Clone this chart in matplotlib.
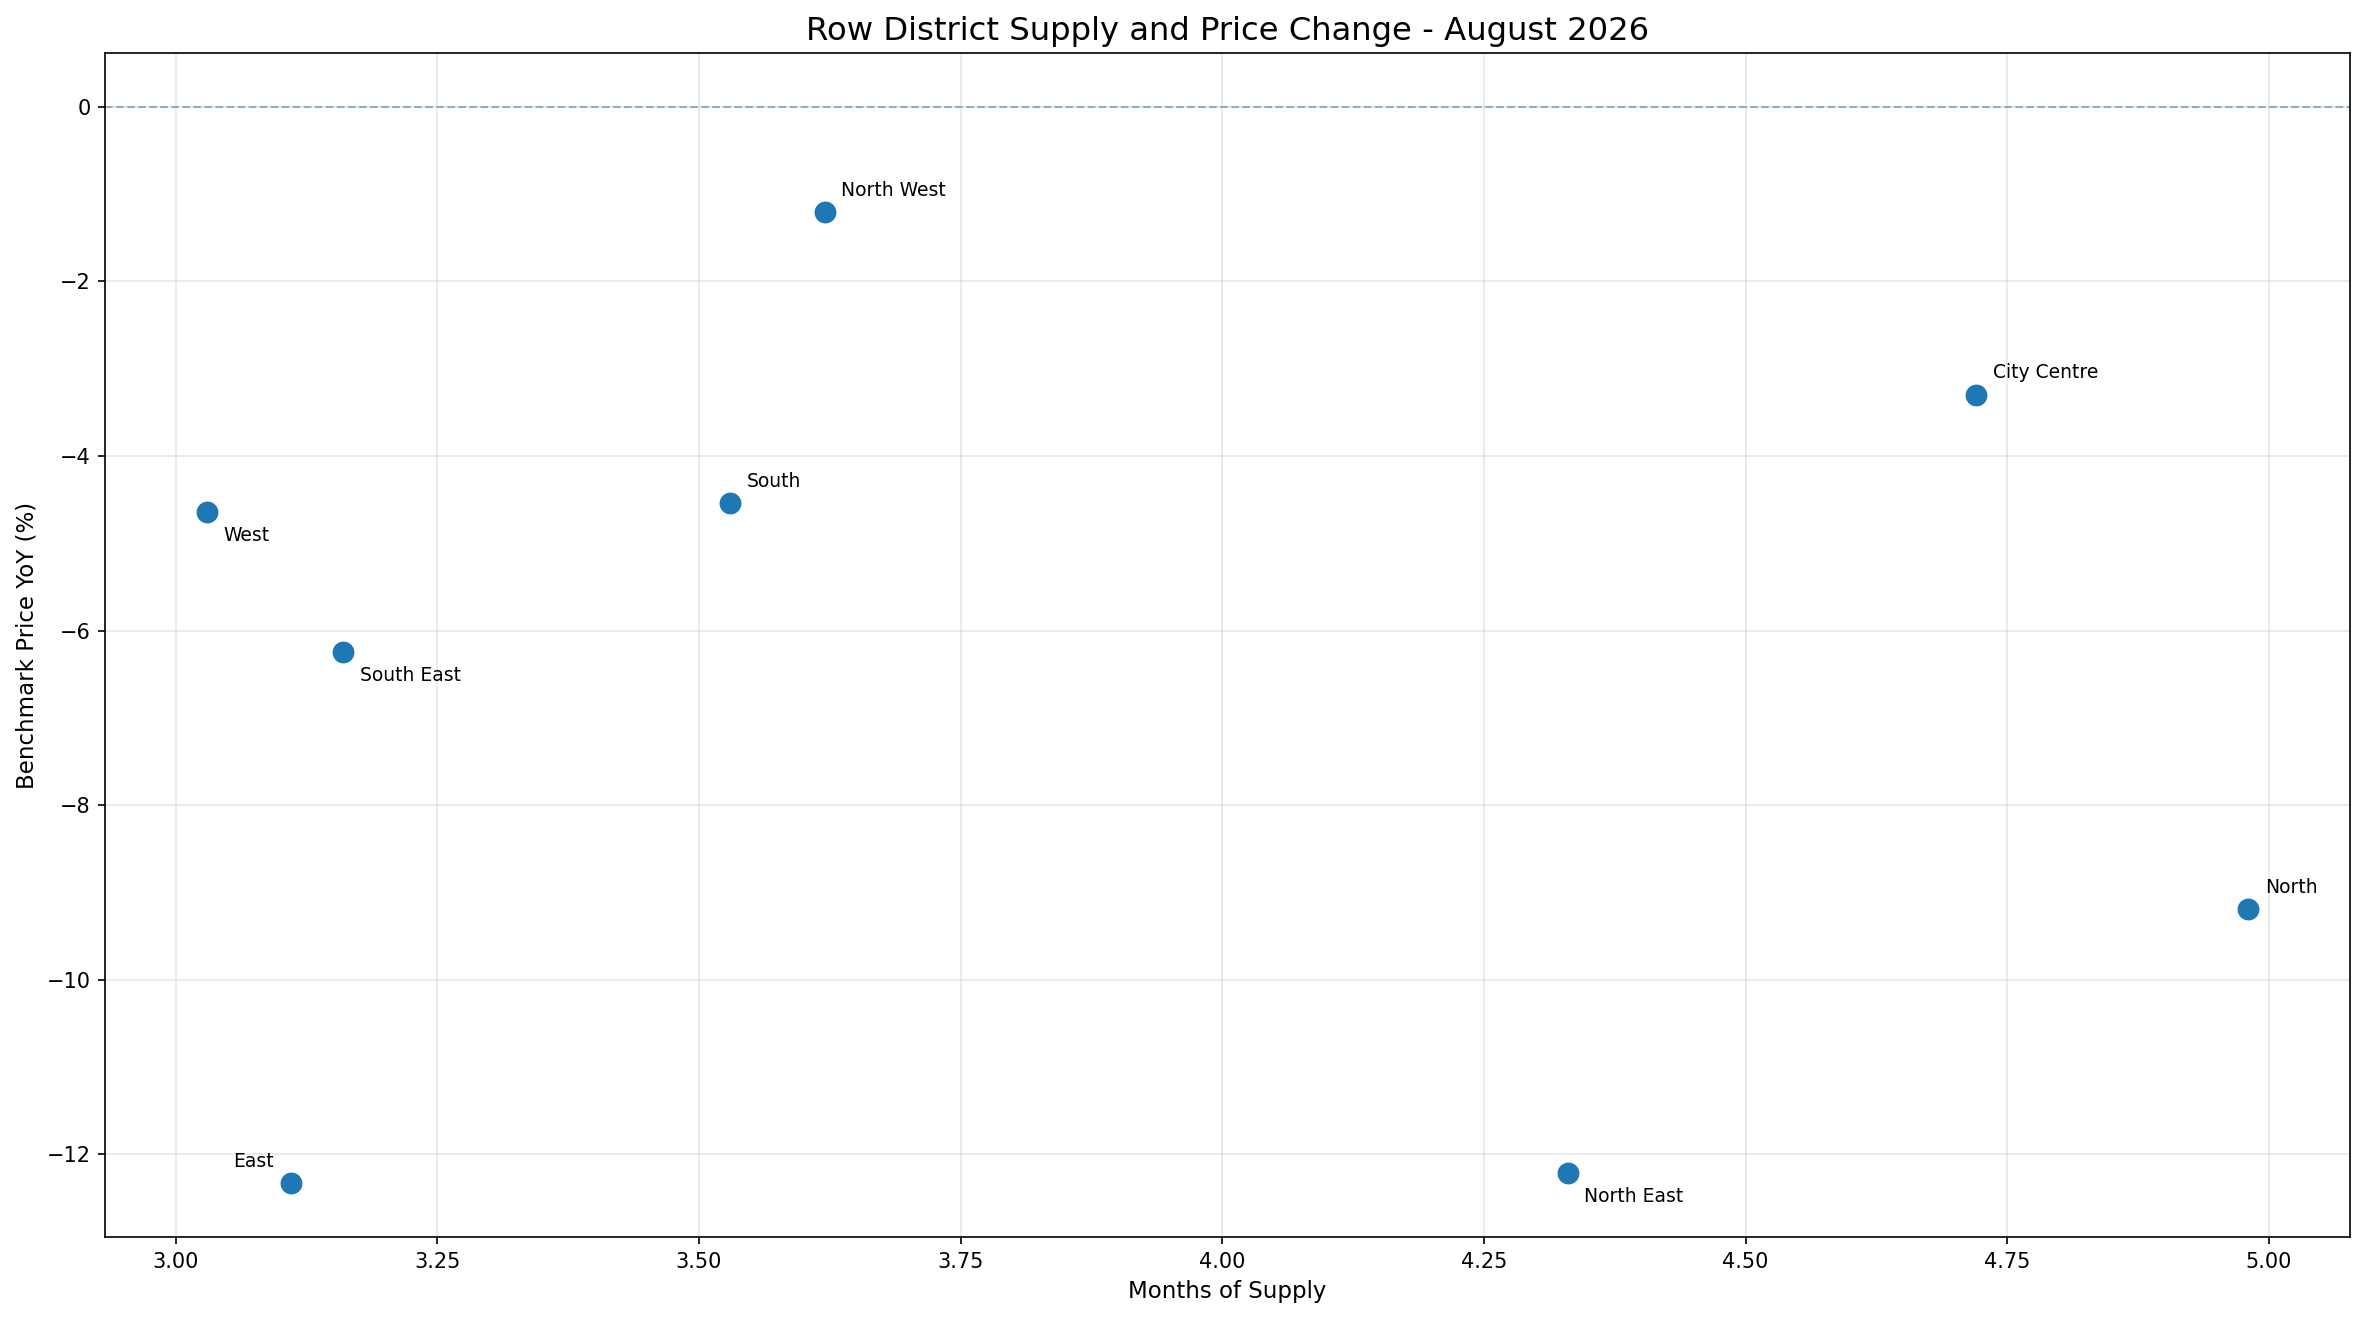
import matplotlib
matplotlib.use('Agg')
import matplotlib.pyplot as plt

districts = ['North West', 'City Centre', 'South', 'West', 'South East', 'North', 'North East', 'East']
months_supply = [3.62, 4.72, 3.53, 3.03, 3.16, 4.98, 4.33, 3.11]
price_yoy = [-1.21, -3.30, -4.54, -4.64, -6.24, -9.19, -12.21, -12.33]

# label placement per district (offset points, horizontal alignment)
below = {'West', 'South East', 'North East'}
left = {'East'}

def main():
    fig, ax = plt.subplots(figsize=(2365 / 150, 1318 / 150), dpi=150)
    ax.scatter(months_supply, price_yoy, s=90, color='#1f77b4', zorder=3)
    ax.axhline(0, color='#7a9fba', linestyle='--', linewidth=1, alpha=0.8)

    for name, x, y in zip(districts, months_supply, price_yoy):
        if name in below:
            off, ha, va = (8, -7), 'left', 'top'
        elif name in left:
            off, ha, va = (-8, 6), 'right', 'bottom'
        else:
            off, ha, va = (8, 6), 'left', 'bottom'
        ax.annotate(name, (x, y), xytext=off, textcoords='offset points',
                    ha=ha, va=va, fontsize=9)

    ax.set_title('Row District Supply and Price Change - August 2026', fontsize=15.5)
    ax.set_xlabel('Months of Supply', fontsize=11)
    ax.set_ylabel('Benchmark Price YoY (%)', fontsize=11)
    ax.grid(True, alpha=0.3)
    fig.subplots_adjust(left=0.0444, right=0.9937, top=0.9598, bottom=0.0615)
    fig.savefig('out.png', dpi=150)

if __name__ == '__main__':
    main()
